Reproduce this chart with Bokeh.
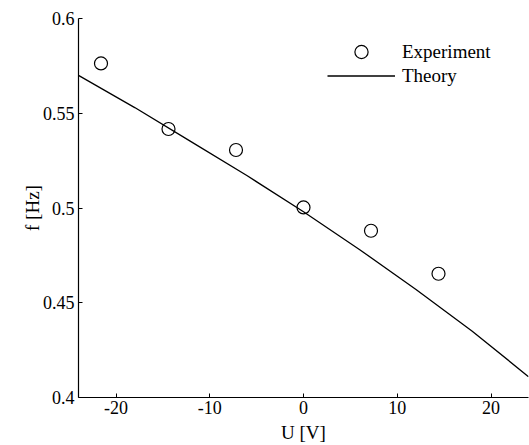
from bokeh.plotting import figure
from bokeh.models import Legend, LegendItem, FixedTicker
from bokeh.embed import file_html
from bokeh.resources import INLINE

# Data
exp_u = [-21.6, -14.4, -7.2, 0.0, 7.2, 14.4]
exp_f = [0.5763, 0.5417, 0.5306, 0.5003, 0.4880, 0.4653]

theory_u = [-24, -18, -12, -6, 0, 6, 12, 18, 24]
theory_f = [0.570, 0.553, 0.535, 0.517, 0.498, 0.478, 0.457, 0.435, 0.411]

x_ticks = [-20, -10, 0, 10, 20]
x_tick_labels = ["-20", "-10", "0", "10", "20"]
y_ticks = [0.4, 0.45, 0.5, 0.55, 0.6]
y_tick_labels = ["0.4", "0.45", "0.5", "0.55", "0.6"]

FONT = "Liberation Serif"

p = figure(frame_width=450, frame_height=379,
           x_range=(-24, 24), y_range=(0.4, 0.6),
           output_backend="svg", toolbar_location=None,
           min_border_left=78, min_border_right=1,
           min_border_top=18, min_border_bottom=48)
p.outline_line_color = None
p.grid.visible = False
p.background_fill_color = "white"

line_r = p.line(theory_u, theory_f, line_color="black", line_width=1.3)
sc_r = p.scatter(exp_u, exp_f, marker="circle", size=13, fill_color=None,
                 line_color="black", line_width=1.2)

p.xaxis.axis_label = "U [V]"
p.yaxis.axis_label = "f [Hz]"

for ax, ticks, labels, standoff, lstand in ((p.xaxis[0], x_ticks, x_tick_labels, 3, 5),
                                            (p.yaxis[0], y_ticks, y_tick_labels, 4, -3)):
    ax.ticker = FixedTicker(ticks=ticks)
    ax.major_label_overrides = dict(zip(ticks, labels))
    ax.axis_line_color = "black"
    ax.axis_line_width = 1.2
    ax.major_tick_line_color = "black"
    ax.major_tick_in = 4
    ax.major_tick_out = 0
    ax.minor_tick_line_color = None
    ax.major_label_text_font = FONT
    ax.major_label_text_font_size = "18px"
    ax.major_label_text_color = "black"
    ax.major_label_standoff = standoff
    ax.axis_label_text_font = FONT
    ax.axis_label_text_font_size = "19px"
    ax.axis_label_text_font_style = "normal"
    ax.axis_label_text_color = "black"
    ax.axis_label_standoff = lstand

leg_kw = dict(label_text_font=FONT, label_text_font_size="19px",
              label_text_color="black", glyph_width=68, label_standoff=7,
              padding=0, margin=0, spacing=0, border_line_color=None,
              background_fill_alpha=0)
leg1 = Legend(items=[LegendItem(label="Experiment", renderers=[sc_r])],
              location=(249, 329), glyph_height=33, label_height=33, **leg_kw)
leg2 = Legend(items=[LegendItem(label="Theory", renderers=[line_r])],
              location=(249, 310), glyph_height=23, label_height=23, **leg_kw)
p.add_layout(leg1)
p.add_layout(leg2)

open("out.html", "w").write(file_html(p, INLINE))
